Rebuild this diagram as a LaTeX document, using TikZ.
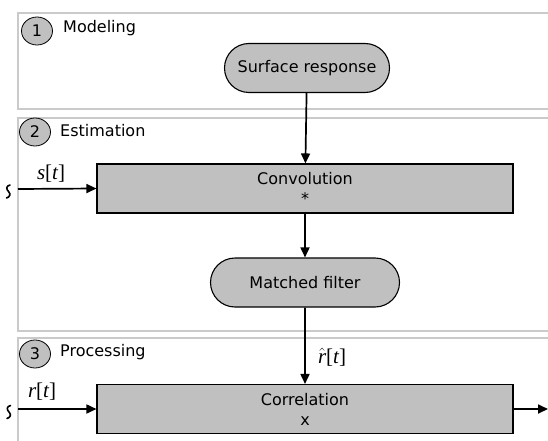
\documentclass[tikz,border=0pt]{standalone}
\usepackage{fontspec}
\setmainfont{DejaVu Sans}
\newfontfamily\tmsfont{Liberation Serif}
\usetikzlibrary{arrows.meta,shapes.misc,shapes.geometric}
\definecolor{boxgray}{HTML}{C0C0C0}
\definecolor{framegray}{HTML}{CACACA}
\newcommand{\ivar}[1]{{\tmsfont\itshape #1}}
\begin{document}
\begin{tikzpicture}[x=1pt,y=-1pt,
 frame/.style={draw=framegray, line width=2.2pt},
 box/.style={draw=black, line width=1.1pt, fill=boxgray, minimum width=416pt, minimum height=49pt, align=center, inner sep=0pt, font=\fontsize{16}{20}\selectfont},
 pill/.style={draw=black, line width=1.1pt, fill=boxgray, rounded rectangle, minimum height=49pt, inner sep=0pt, font=\fontsize{16}{20}\selectfont},
 num/.style={draw=black, line width=0.8pt, fill=boxgray, ellipse, minimum width=31pt, minimum height=28pt, inner sep=0pt, font=\fontsize{16}{20}\selectfont},
 ttl/.style={anchor=west, inner sep=0pt, font=\fontsize{16}{20}\selectfont},
 lbl/.style={inner sep=0pt, font=\fontsize{21}{24}\tmsfont\selectfont},
 wave/.style={line width=1.6pt, line cap=round},
 arr/.style={-{Triangle[length=10pt,width=9pt]}, line width=1.7pt}
]
\useasboundingbox (0,0) rectangle (548,441);
% frames
\draw[frame] (548,13) -- (18,13) -- (18,109) -- (548,109);
\draw[frame] (548,118) -- (18,118) -- (18,331) -- (548,331);
\draw[frame] (548,338) -- (18,338) -- (18,442);
% section headers
\node[num] (n1) at (37,31) {1};
\node[ttl] (t1) at (63,28) {Modeling};
\node[num] (n2) at (35,132) {2};
\node[ttl] (t2) at (60,131) {Estimation};
\node[num] (n3) at (35,354) {3};
\node[ttl] (t3) at (60,352) {Processing};
% blocks
\node[pill, minimum width=165pt] (sr) at (307,68) {Surface response};
\node[box] (conv) at (305,188.5) {Convolution\\*};
\node[pill, minimum width=189pt] (mf) at (305,282.5) {Matched filter};
\node[box] (corr) at (305,409) {Correlation\\x};
% input squiggles
\draw[wave] (10,185) .. controls (6,186) and (6,189) .. (8.5,191.5) .. controls (11,194) and (10,197) .. (6.5,198);
\draw[wave] (10.5,405.5) .. controls (6.5,406.5) and (6.5,409.5) .. (9,412) .. controls (11.5,414.5) and (10.5,417.5) .. (7,418.5);
\coordinate (i1) at (18,189);
\coordinate (i2) at (18,409);
\coordinate (o2) at (548,409);
\node[lbl] (ls) at (51,174) {\ivar{s}[\ivar{t}]};
\node[lbl] (lr) at (42,392) {\ivar{r}[\ivar{t}]};
\node[lbl] (lh) at (332,357) {$\hat{\mbox{\ivar{r}}}$[\ivar{t}]};
% connectors
\draw[arr] (sr) -- (conv);
\draw[arr] (conv) -- (mf);
\draw[arr] (mf) -- (corr);
\draw[arr] (i1) -- (conv.west);
\draw[arr] (i2) -- (corr.west);
\draw[arr] (corr.east) -- (o2);
\end{tikzpicture}
\end{document}
